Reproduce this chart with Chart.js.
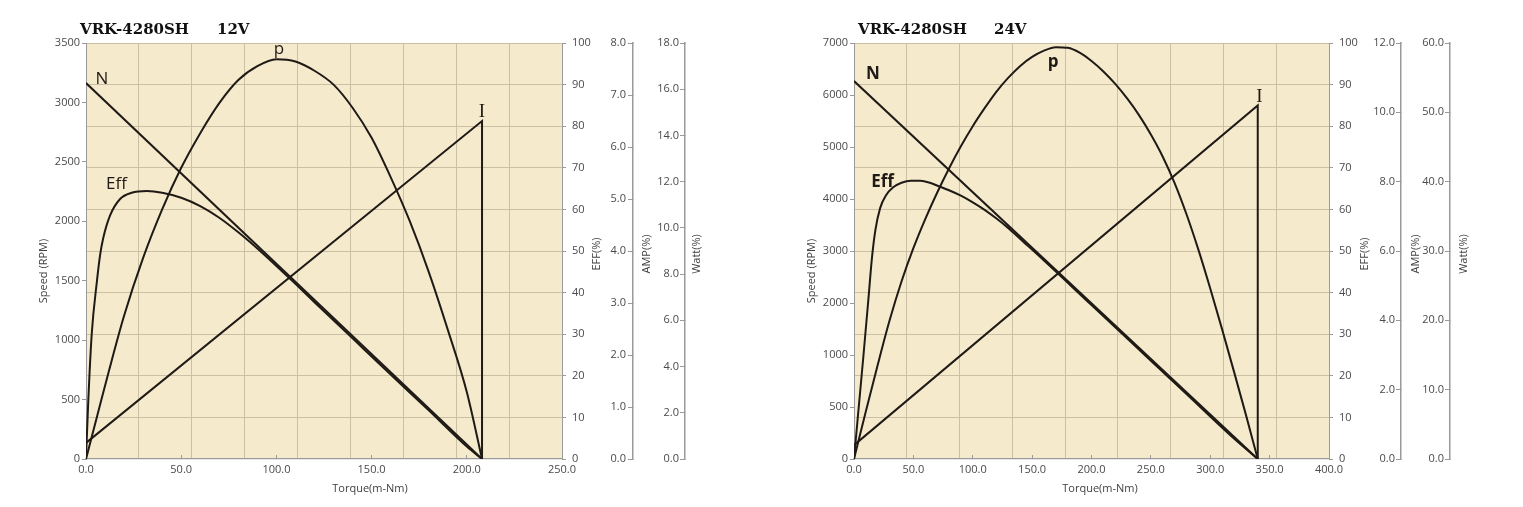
<!DOCTYPE html>
<html>
<head>
<meta charset="utf-8">
<title>VRK-4280SH performance curves</title>
<script src="https://cdn.jsdelivr.net/npm/chart.js@4.4.1/dist/chart.umd.min.js"></script>
<style>
  html, body { margin: 0; padding: 0; background: #fff; }
  #wrap { position: relative; width: 1523px; height: 507px; overflow: hidden; }
  canvas { position: absolute; top: 0; }
  #c12 { left: 0; }
  #c24 { left: 760px; }
</style>
</head>
<body>
<div id="wrap">
  <canvas id="c12" width="760" height="507"></canvas>
  <canvas id="c24" width="763" height="507"></canvas>
</div>
<script>
// ---- tick labels ----
const effTicks = ['0', '10', '20', '30', '40', '50', '60', '70', '80', '90', '100'];

const torqueTicks12 = ['0.0', '50.0', '100.0', '150.0', '200.0', '250.0'];
const speedTicks12 = ['0', '500', '1000', '1500', '2000', '2500', '3000', '3500'];
const ampTicks12 = ['0.0', '1.0', '2.0', '3.0', '4.0', '5.0', '6.0', '7.0', '8.0'];
const wattTicks12 = ['0.0', '2.0', '4.0', '6.0', '8.0', '10.0', '12.0', '14.0', '16.0', '18.0'];

const torqueTicks24 = ['0.0', '50.0', '100.0', '150.0', '200.0', '250.0', '300.0', '350.0', '400.0'];
const speedTicks24 = ['0', '500', '1000', '2000', '3000', '4000', '5000', '6000', '7000'];
const ampTicks24 = ['0.0', '2.0', '4.0', '6.0', '8.0', '10.0', '12.0'];
const wattTicks24 = ['0.0', '10.0', '20.0', '30.0', '40.0', '50.0', '60.0'];

// ---- 12V curves (torque in m-Nm) ----
const n12Torque = [0, 208];
const n12Speed = [3163, 0];
const i12Torque = [0, 208, 208];
const i12Amp = [0.31, 6.5, 0];
const eff12Torque = [0, 1.2, 3, 5.8, 7.4, 9, 12.6, 17.9, 24, 32, 40, 50, 60, 70, 80, 90, 100, 110, 120, 140, 160, 180, 200, 208];
const eff12Value = [0, 14, 30, 43, 49, 53, 58.5, 62.5, 64, 64.4, 64.0, 62.8, 60.8, 58.0, 54.5, 50.6, 46.4, 42.1, 37.7, 29.0, 20.3, 11.7, 3.0, 0];
const p12Torque = [0, 6, 12, 20, 30, 40, 50, 60, 70, 80, 90, 100, 110, 120, 130, 140, 150, 160, 170, 180, 190, 200, 208];
const p12Watt = [0, 1.9, 3.8, 6.2, 8.7, 10.8, 12.6, 14.1, 15.4, 16.4, 17.0, 17.3, 17.2, 16.8, 16.2, 15.2, 13.9, 12.2, 10.3, 8.1, 5.6, 2.9, 0];

// ---- 24V curves ----
const n24Torque = [0, 340];
const n24Speed = [6360, 0];
const i24Torque = [0, 340, 340];
const i24Amp = [0.4, 10.2, 0];
const eff24Torque = [0, 4, 8, 12, 15, 18, 22, 27, 33, 40, 48, 56, 64, 72, 80, 90, 100, 110, 120, 130, 140, 160, 200, 240, 280, 320, 340];
const eff24Value = [0, 12.5, 25, 38, 48, 55, 60.3, 63.4, 65.3, 66.4, 66.9, 66.9, 66.4, 65.5, 64.6, 63.3, 61.7, 59.9, 57.8, 55.5, 52.9, 47.7, 37.0, 26.3, 15.6, 4.9, 0];
const p24Torque = [0, 10, 20, 30, 40, 50, 60, 70, 80, 90, 100, 110, 120, 130, 140, 150, 160, 170, 180, 190, 200, 210, 220, 230, 240, 250, 260, 270, 280, 290, 300, 310, 320, 330, 340];
const p24Watt = [0, 6.9, 13.6, 20.0, 25.6, 30.4, 34.6, 38.4, 41.9, 45.1, 48.0, 50.6, 53.0, 55.0, 56.7, 58.0, 58.9, 59.4, 59.3, 58.6, 57.4, 55.9, 54.1, 52.0, 49.6, 46.8, 43.6, 39.8, 35.3, 30.2, 24.6, 18.7, 12.6, 6.4, 0];

// ---- styling ----
const ink = '#1f1a15';
const paperColor = '#f6eacd';
const gridColor = '#cbbfa4';
const axisGrey = '#9a9a9a';
const labelColor = '#4a4a4a';
const tickFont = { family: 'Open Sans', size: 11 };

function pts(xs, ys) {
  return xs.map((x, i) => ({ x: x, y: ys[i] }));
}

// background paper, headings, axis titles and curve names
const paper = {
  id: 'paper',
  beforeDraw(chart, args, o) {
    const { ctx, chartArea: a } = chart;
    ctx.save();
    ctx.fillStyle = paperColor;
    ctx.fillRect(a.left, a.top, a.right - a.left, a.bottom - a.top);
    ctx.restore();
  },
  afterDraw(chart, args, o) {
    const ctx = chart.ctx;
    ctx.save();
    ctx.fillStyle = '#111';
    ctx.font = 'bold 15px "DejaVu Serif"';
    ctx.textAlign = 'left';
    ctx.textBaseline = 'alphabetic';
    ctx.fillText(o.model, o.modelX, 34);
    ctx.fillText(o.volt, o.voltX, 34);

    ctx.font = '11px "Open Sans"';
    ctx.fillStyle = '#3f3f3f';
    ctx.textAlign = 'center';
    ctx.textBaseline = 'middle';
    o.axisTitles.forEach(t => {
      ctx.save();
      ctx.translate(t.x, t.y);
      if (t.rot) ctx.rotate(-Math.PI / 2);
      ctx.fillText(t.text, 0, 0);
      ctx.restore();
    });

    ctx.fillStyle = ink;
    ctx.textBaseline = 'alphabetic';
    o.curveLabels.forEach(l => {
      const x = chart.scales.x.getPixelForValue(l.x);
      const y = chart.scales[l.axis].getPixelForValue(l.y);
      ctx.font = l.font;
      ctx.fillText(l.text, x, y);
    });
    ctx.restore();
  }
};

function line(data, axis, smooth) {
  return {
    data: data,
    yAxisID: axis,
    borderColor: ink,
    borderWidth: 2,
    pointRadius: 0,
    fill: false,
    cubicInterpolationMode: smooth ? 'monotone' : 'default',
    tension: smooth ? 0.4 : 0
  };
}

function makeChart(id, c) {
  const scales = {
    x: {
      type: 'linear', position: 'bottom', weight: 0,
      min: 0, max: c.torqueMax,
      ticks: { stepSize: 50, font: tickFont, color: labelColor, padding: 8, maxRotation: 0, autoSkip: false,
               callback: (v, i) => c.torqueTicks[i] },
      grid: { drawOnChartArea: false, tickLength: -4, color: axisGrey },
      border: { color: axisGrey, dash: [8, 6], width: 1.2 },
      afterFit: s => { s.height = 48; }
    },
    xg: {
      type: 'linear', position: 'bottom', weight: 1,
      min: 0, max: 9,
      ticks: { display: false, stepSize: 1 },
      grid: { color: gridColor, drawTicks: false },
      border: { display: false },
      afterFit: s => { s.height = 0; }
    },
    yS: {
      type: 'linear', position: 'left',
      min: 0, max: c.speedMax,
      ticks: { stepSize: c.speedStep, font: tickFont, color: labelColor, padding: 2,
               callback: (v, i) => c.speedTicks[i] },
      grid: { drawOnChartArea: false, tickLength: 4, color: axisGrey },
      border: { color: axisGrey },
      afterFit: s => { s.width = c.speedW; }
    },
    yE: {
      type: 'linear', position: 'right', weight: 0,
      min: 0, max: 100,
      ticks: { stepSize: 10, font: tickFont, color: labelColor, padding: 6,
               callback: (v, i) => effTicks[i] },
      grid: { color: g => (g.tick && g.tick.value === 0) ? 'rgba(0,0,0,0)' : gridColor,
              tickColor: axisGrey, tickLength: 4 },
      border: { color: axisGrey },
      afterFit: s => { s.width = c.effW; }
    },
    yA: {
      type: 'linear', position: 'right', weight: 1,
      min: 0, max: c.ampMax,
      ticks: { stepSize: c.ampStep, font: tickFont, color: labelColor, mirror: true, padding: c.ampPad,
               callback: (v, i) => c.ampTicks[i] },
      grid: { drawOnChartArea: false, tickLength: -5, color: axisGrey },
      border: { color: axisGrey, width: 1.5 },
      afterFit: s => { s.width = c.ampW; }
    },
    yW: {
      type: 'linear', position: 'right', weight: 2,
      min: 0, max: c.wattMax,
      ticks: { stepSize: c.wattStep, font: tickFont, color: labelColor, mirror: true, padding: c.wattPad,
               callback: (v, i) => c.wattTicks[i] },
      grid: { drawOnChartArea: false, tickLength: -5, color: axisGrey },
      border: { color: axisGrey, width: 1.5 },
      afterFit: s => { s.width = c.wattW; }
    }
  };
  if (c.hiddenSpeedMax) {
    scales.yN = { type: 'linear', position: 'left', display: false, min: 0, max: c.hiddenSpeedMax };
  }

  return new Chart(document.getElementById(id), {
    type: 'line',
    data: { datasets: c.datasets },
    options: {
      responsive: false,
      animation: false,
      layout: { padding: { top: 43, left: 0, right: 0, bottom: 0 } },
      plugins: {
        legend: { display: false },
        tooltip: { enabled: false },
        paper: c.paper
      },
      scales: scales
    },
    plugins: [paper]
  });
}

makeChart('c12', {
  torqueMax: 250, torqueTicks: torqueTicks12,
  speedMax: 3500, speedStep: 500, speedTicks: speedTicks12,
  ampMax: 8, ampStep: 1, ampTicks: ampTicks12, ampPad: -7,
  wattMax: 18, wattStep: 2, wattTicks: wattTicks12, wattPad: -6,
  speedW: 86, effW: 71, ampW: 52, wattW: 75,
  datasets: [
    line(pts(n12Torque, n12Speed), 'yS', false),
    line(pts(i12Torque, i12Amp), 'yA', false),
    line(pts(eff12Torque, eff12Value), 'yE', true),
    line(pts(p12Torque, p12Watt), 'yW', true)
  ],
  paper: {
    model: 'VRK-4280SH', modelX: 80, volt: '12V', voltX: 217,
    axisTitles: [
      { text: 'Speed (RPM)', x: 44, y: 271, rot: true },
      { text: 'Torque(m-Nm)', x: 370, y: 489, rot: false },
      { text: 'EFF(%)', x: 597, y: 254, rot: true },
      { text: 'AMP(%)', x: 647, y: 254, rot: true },
      { text: 'Watt(%)', x: 697, y: 254, rot: true }
    ],
    curveLabels: [
      { text: 'N', x: 8.4, y: 3155, axis: 'yS', font: '17px "Open Sans"' },
      { text: 'Eff', x: 16, y: 64.9, axis: 'yE', font: '17px "Open Sans"' },
      { text: 'p', x: 101.4, y: 17.53, axis: 'yW', font: '17px "Open Sans"' },
      { text: 'I', x: 208, y: 6.58, axis: 'yA', font: '19px "Liberation Serif"' }
    ]
  }
});

makeChart('c24', {
  torqueMax: 400, torqueTicks: torqueTicks24,
  speedMax: 8, speedStep: 1, speedTicks: speedTicks24, hiddenSpeedMax: 7000,
  ampMax: 12, ampStep: 2, ampTicks: ampTicks24, ampPad: -6,
  wattMax: 60, wattStep: 10, wattTicks: wattTicks24, wattPad: -6,
  speedW: 94, effW: 72, ampW: 49, wattW: 73,
  datasets: [
    line(pts(n24Torque, n24Speed), 'yN', false),
    line(pts(i24Torque, i24Amp), 'yA', false),
    line(pts(eff24Torque, eff24Value), 'yE', true),
    line(pts(p24Torque, p24Watt), 'yW', true)
  ],
  paper: {
    model: 'VRK-4280SH', modelX: 98, volt: '24V', voltX: 234,
    axisTitles: [
      { text: 'Speed (RPM)', x: 52, y: 271, rot: true },
      { text: 'Torque(m-Nm)', x: 340, y: 489, rot: false },
      { text: 'EFF(%)', x: 605, y: 254, rot: true },
      { text: 'AMP(%)', x: 656, y: 254, rot: true },
      { text: 'Watt(%)', x: 704, y: 254, rot: true }
    ],
    curveLabels: [
      { text: 'N', x: 16, y: 6394, axis: 'yN', font: 'bold 17px "Open Sans"' },
      { text: 'Eff', x: 24, y: 65.4, axis: 'yE', font: 'bold 17px "Open Sans"' },
      { text: 'p', x: 167.6, y: 56.5, axis: 'yW', font: 'bold 17px "Open Sans"' },
      { text: 'I', x: 341.5, y: 10.3, axis: 'yA', font: '19px "Liberation Serif"' }
    ]
  }
});
</script>
</body>
</html>
